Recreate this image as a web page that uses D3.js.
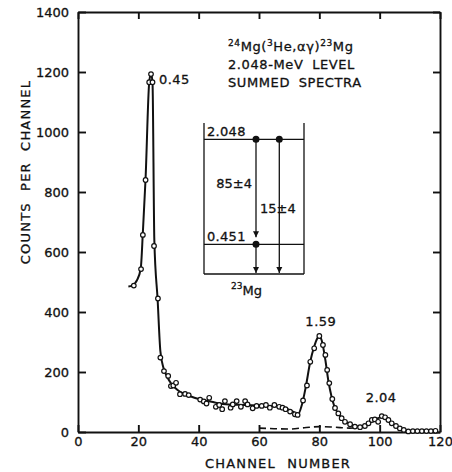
<!DOCTYPE html>
<html>
<head>
<meta charset="utf-8">
<script src="https://cdn.jsdelivr.net/npm/d3@7"></script>
<style>
  body { margin: 0; background: #fff; }
  svg { display: block; font-family: "DejaVu Sans", sans-serif; }
  .axis path, .axis line { stroke: #111; stroke-width: 1.9; }
  .axis text { font-size: 13px; fill: #111; stroke: #111; stroke-width: 0.3; font-family: "DejaVu Sans", sans-serif; }
  .lbl { font-size: 13px; fill: #111; stroke: #111; stroke-width: 0.3; }
</style>
</head>
<body>
<div id="chart"></div>
<script>
// measured points (channel, counts)
const channels = [18.5, 20.9, 21.5, 22.4, 23.6, 24.2, 24.7, 25.2, 26.5, 27.3, 28.5, 29.9, 30.8, 31.6, 32.5, 33.8, 35.5, 36.7,
  40.5, 41.7, 42.6, 43.5, 45.7, 46.8, 47.8, 48.7, 50.6, 51.3, 52.6, 54, 55.4, 56.2, 57.9, 59.2, 60.9, 62.3, 63.6, 65.1,
  66.7, 67.8, 68.8, 70.3, 71.9, 72.8, 74.6, 75.9, 77, 78.3, 80, 81.2, 82, 82.6, 83.3, 84.3, 85.2, 86.3, 87.4, 88.5,
  90.2, 91.8, 93.5, 95.1, 96.3, 97.4, 98.4, 99.5, 100.7, 101.8, 102.9, 104, 105.4, 106.7, 108, 109.5, 111, 112.5,
  114, 115.5, 117, 118.5];
const counts = [488, 543, 657, 840, 1166, 1193, 1166, 620, 445, 248, 203, 187, 153, 155, 164, 126, 127, 123,
  108, 102, 95, 114, 84, 90, 76, 103, 81, 92, 103, 84, 103, 92, 79, 87, 87, 90, 81, 90,
  84, 81, 76, 68, 59, 57, 105, 155, 234, 279, 320, 290, 257, 207, 163, 110, 80, 62, 46, 34,
  26, 18, 16, 20, 29, 40, 42, 34, 53, 49, 40, 29, 20, 12, 7, 2, 3, 3,
  3, 3, 3, 4];

// hand-drawn smooth curve
const fitCh = [16.7, 18, 19.5, 20.8, 21.5, 22.4, 23.6, 24.2, 24.7, 25.3, 26.4, 27.3, 28.3, 29.5, 31, 33, 35, 37, 40, 43,
  46, 50, 55, 60, 65, 68, 70, 72, 73, 74.2, 75.5, 77, 78.3, 79.3, 80, 80.8, 82, 83, 84, 85, 86.5, 88, 90, 92, 94, 96,
  98, 100, 101.3, 103, 105, 107, 109, 111, 119];
const fitCounts = [485, 488, 505, 545, 665, 845, 1165, 1195, 1165, 640, 440, 270, 215, 185, 160, 140, 128, 120, 110, 103,
  97, 92, 90, 88, 86, 82, 74, 64, 60, 90, 150, 235, 285, 312, 320, 305, 240, 170, 120, 85, 58, 40, 27, 19, 17, 26,
  40, 48, 50, 38, 22, 10, 4, 3, 3];

// dashed background under 1.59 / 2.04
const dashCh = [60, 65, 70, 75, 80, 85, 90, 94];
const dashCounts = [13, 11, 10, 14, 18, 16, 13, 15];

const xTicks = [0, 20, 40, 60, 80, 100, 120];
const yTicks = [0, 200, 400, 600, 800, 1000, 1200, 1400];

const peakLabels = ["0.45", "1.59", "2.04"];
const peakCh = [25.5, 80.5, 100.5];
const peakCounts = [1160, 355, 100];

// level scheme inset
const levels = [2.048, 0.451, 0];
const levelLabels = ["2.048", "0.451"];
const branches = ["85±4", "15±4"];

const width = 452, height = 472;
const svg = d3.select("#chart").append("svg")
  .attr("width", width).attr("height", height);

const x = d3.scaleLinear().domain([0, 120]).range([78, 440]);
const y = d3.scaleLinear().domain([0, 1400]).range([432, 12]);

svg.append("g").attr("class", "axis")
  .attr("transform", `translate(${x(0)},0)`)
  .call(d3.axisLeft(y).tickValues(yTicks).tickSize(-8).tickPadding(9).tickSizeOuter(0).tickFormat(d3.format("d")));
svg.append("g").attr("class", "axis")
  .attr("transform", `translate(0,${y(0)})`)
  .call(d3.axisBottom(x).tickValues(xTicks).tickSize(-7).tickPadding(5).tickSizeOuter(0).tickFormat(d3.format("d")));
svg.append("g").attr("class", "axis")
  .attr("transform", `translate(${x(120)},0)`)
  .call(d3.axisRight(y).tickValues(yTicks).tickSize(-7).tickSizeOuter(0).tickFormat(""));
svg.append("g").attr("class", "axis")
  .attr("transform", `translate(0,${y(1400)})`)
  .call(d3.axisTop(x).tickValues(xTicks).tickSize(-7).tickSizeOuter(0).tickFormat(""));

svg.append("text").attr("class", "lbl")
  .attr("transform", `translate(30,172) rotate(-90)`)
  .attr("text-anchor", "middle")
  .attr("letter-spacing", 1.2)
  .attr("word-spacing", 6)
  .text("COUNTS PER CHANNEL");
svg.append("text").attr("class", "lbl")
  .attr("x", 278).attr("y", 468)
  .attr("text-anchor", "middle")
  .attr("letter-spacing", 1.2)
  .attr("word-spacing", 6)
  .text("CHANNEL NUMBER");

const line = d3.line().x((d, i) => x(fitCh[i])).y(d => y(d)).curve(d3.curveMonotoneX);
svg.append("path")
  .attr("d", line(fitCounts))
  .attr("fill", "none").attr("stroke", "#111").attr("stroke-width", 2);

const dline = d3.line().x((d, i) => x(dashCh[i])).y(d => y(d)).curve(d3.curveMonotoneX);
svg.append("path")
  .attr("d", dline(dashCounts))
  .attr("fill", "none").attr("stroke", "#111").attr("stroke-width", 1.6)
  .attr("stroke-dasharray", "7,4");

svg.selectAll(".pt").data(counts).enter().append("circle")
  .attr("class", "pt")
  .attr("cx", (d, i) => x(channels[i]))
  .attr("cy", d => y(d))
  .attr("r", 2.3)
  .attr("fill", "#fff").attr("stroke", "#111").attr("stroke-width", 1.2);

svg.selectAll(".peak").data(peakLabels).enter().append("text")
  .attr("class", "lbl")
  .attr("x", (d, i) => x(peakCh[i]) + (i === 0 ? 4 : 0))
  .attr("y", (d, i) => y(peakCounts[i]))
  .attr("text-anchor", (d, i) => i === 0 ? "start" : "middle")
  .attr("letter-spacing", 0.5)
  .text(d => d);

// title block
const title = svg.append("text").attr("class", "lbl").attr("x", 228).attr("y", 51)
  .attr("letter-spacing", 0.6);
title.append("tspan").attr("font-size", 9).attr("dy", -5).text("24");
title.append("tspan").attr("dy", 5).text("Mg(");
title.append("tspan").attr("font-size", 9).attr("dy", -5).text("3");
title.append("tspan").attr("dy", 5).text("He,αγ)");
title.append("tspan").attr("font-size", 9).attr("dy", -5).text("23");
title.append("tspan").attr("dy", 5).text("Mg");
svg.append("text").attr("class", "lbl").attr("x", 228).attr("y", 69)
  .attr("letter-spacing", 0.6).attr("word-spacing", 4).text("2.048-MeV LEVEL");
svg.append("text").attr("class", "lbl").attr("x", 228).attr("y", 87)
  .attr("letter-spacing", 0.6).attr("word-spacing", 4).text("SUMMED SPECTRA");

// level scheme
const e = d3.scaleLinear().domain([0, 2.048]).range([274, 139.3]);
const ix0 = 204, ix1 = 304;
const ins = svg.append("g").attr("stroke", "#111").attr("stroke-width", 1.3);
ins.append("line").attr("x1", ix0).attr("x2", ix0).attr("y1", 123).attr("y2", e(0));
ins.append("line").attr("x1", ix1).attr("x2", ix1).attr("y1", 123).attr("y2", e(0));
ins.selectAll(".lev").data(levels).enter().append("line")
  .attr("x1", ix0).attr("x2", ix1)
  .attr("y1", d => e(d)).attr("y2", d => e(d));

svg.append("defs").append("marker")
  .attr("id", "arr").attr("viewBox", "0 0 10 10")
  .attr("refX", 10).attr("refY", 5)
  .attr("markerWidth", 6).attr("markerHeight", 8)
  .attr("markerUnits", "userSpaceOnUse")
  .attr("orient", "auto")
  .append("path").attr("d", "M0,0L10,5L0,10z").attr("fill", "#111");

const gammas = [[2.048, 0.451, 256], [0.451, 0, 256], [2.048, 0, 279.3]];
ins.selectAll(".gam").data(gammas).enter().append("line")
  .attr("x1", d => d[2]).attr("x2", d => d[2])
  .attr("y1", d => e(d[0])).attr("y2", d => e(d[1]) - (d[1] > 0 ? 7 : 1))
  .attr("marker-end", "url(#arr)");
svg.selectAll(".dot").data([[2.048, 256], [2.048, 279.3], [0.451, 256]]).enter().append("circle")
  .attr("cx", d => d[1]).attr("cy", d => e(d[0])).attr("r", 3.5).attr("fill", "#111");

svg.selectAll(".levlab").data(levelLabels).enter().append("text")
  .attr("class", "lbl")
  .attr("x", 207).attr("y", (d, i) => e(levels[i]) - 3)
  .attr("letter-spacing", 0.3)
  .text(d => d);
svg.append("text").attr("class", "lbl").attr("x", 252).attr("y", 188)
  .attr("text-anchor", "end").text(branches[0]);
svg.append("text").attr("class", "lbl").attr("x", 260).attr("y", 213)
  .text(branches[1]);
const mg = svg.append("text").attr("class", "lbl").attr("x", 231).attr("y", 295);
mg.append("tspan").attr("font-size", 9).attr("dy", -6).text("23");
mg.append("tspan").attr("dy", 6).text("Mg");
</script>
</body>
</html>
